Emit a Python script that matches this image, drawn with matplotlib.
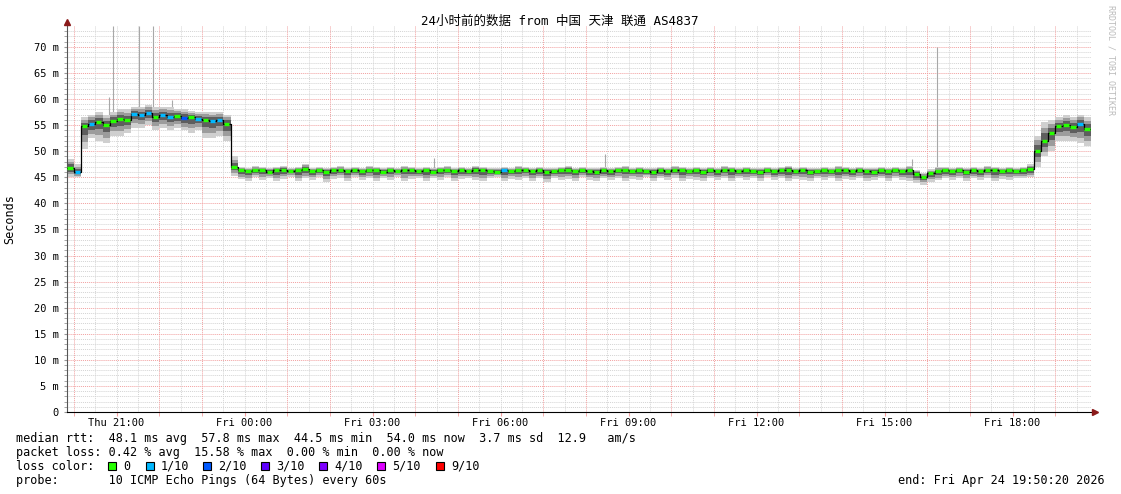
import numpy as np
import matplotlib
matplotlib.use('Agg')
import matplotlib.pyplot as plt
from matplotlib.patches import Rectangle

# ---- data (10 minute steps, start Thu 19:50:20, 24 hours) ----
median = [46.8, 46.0,
          54.8, 55.2, 55.6, 55.0, 55.8, 56.2, 56.0, 57.2, 57.0, 57.4,
          56.6, 57.0, 56.6, 56.8, 56.4, 56.5, 56.2, 56.0, 55.8, 56.0, 55.2,
          47.0,
          46.3, 46.2, 46.4, 46.3, 46.1, 46.3, 46.4, 46.2, 46.3, 46.5,
          46.2, 46.3, 46.1, 46.3, 46.4, 46.2, 46.3, 46.2, 46.4, 46.3,
          46.1, 46.3, 46.2, 46.4, 46.3, 46.2, 46.3, 46.1, 46.3, 46.4,
          46.2, 46.3, 46.2, 46.4, 46.3, 46.2, 46.1, 46.3, 46.2, 46.4,
          46.3, 46.2, 46.3, 46.1, 46.2, 46.3, 46.4, 46.2, 46.3, 46.2,
          46.1, 46.3, 46.2, 46.3, 46.4, 46.2, 46.3, 46.2, 46.1, 46.3,
          46.2, 46.4, 46.3, 46.2, 46.3, 46.1, 46.3, 46.2, 46.4, 46.3,
          46.2, 46.3, 46.2, 46.1, 46.3, 46.2, 46.3, 46.4, 46.2, 46.3,
          46.1, 46.2, 46.3, 46.2, 46.4, 46.3, 46.2, 46.3, 46.2, 46.1,
          46.3, 46.2, 46.3, 46.2, 46.4, 45.6, 45.0, 45.8, 46.2, 46.3,
          46.2, 46.3, 46.1, 46.3, 46.2, 46.4, 46.3, 46.2, 46.3, 46.2,
          46.3, 46.5,
          50.0, 52.0, 53.5, 54.8, 55.0, 54.6, 55.2, 54.2]

smoke_lo = [45.0, 45.0,
            50.5, 52.5, 52.0, 51.5, 53.0, 53.0, 53.5, 54.5, 54.5, 55.0,
            54.0, 54.5, 54.0, 54.5, 54.0, 53.5, 54.0, 52.5, 52.5, 53.0, 52.0,
            45.3,
            44.6, 44.3, 45.0, 44.4, 44.9, 44.2, 44.7, 45.1, 44.3, 44.8,
            44.5, 45.0, 44.1, 44.7, 44.9, 44.3, 45.0, 44.5, 44.8, 44.2,
            44.9, 44.4, 45.1, 44.3, 44.7, 44.9, 44.2, 44.8, 44.5, 45.0,
            44.3, 44.7, 44.9, 44.4, 44.2, 44.8, 45.1, 44.3, 44.7, 44.5,
            44.9, 44.3, 44.8, 44.1, 44.9, 44.5, 44.7, 44.3, 45.0, 44.5,
            44.2, 44.8, 44.5, 44.9, 44.3, 44.7, 44.5, 45.0, 44.2, 44.8,
            44.5, 44.9, 44.3, 44.7, 44.5, 44.2, 44.9, 44.5, 44.8, 44.3,
            44.9, 44.4, 44.8, 44.3, 45.0, 44.5, 44.8, 44.2, 44.7, 44.5,
            44.3, 44.9, 44.5, 44.8, 44.2, 44.7, 44.5, 44.9, 44.3, 44.5,
            44.8, 44.3, 44.9, 44.5, 44.2, 43.9, 43.6, 44.1, 44.4, 44.8,
            44.5, 44.9, 44.3, 44.8, 44.5, 44.9, 44.3, 44.7, 44.5, 44.9,
            44.8, 45.0,
            47.0, 49.0, 50.0, 52.0, 52.0, 52.0, 51.5, 51.0]

smoke_hi = [48.5, 47.5,
            56.5, 57.0, 57.5, 57.0, 57.5, 58.0, 58.0, 58.5, 58.5, 58.8,
            58.5, 58.5, 58.5, 58.0, 58.0, 57.8, 57.5, 57.5, 57.5, 57.5, 57.0,
            49.0,
            46.9, 46.8, 47.1, 46.9, 46.7, 47.0, 47.2, 46.8, 46.9, 47.6,
            46.8, 47.0, 46.7, 46.9, 47.1, 46.8, 47.0, 46.8, 47.1, 46.9,
            46.7, 47.0, 46.8, 47.1, 46.9, 46.8, 47.0, 46.7, 46.9, 47.1,
            46.8, 46.9, 46.8, 47.2, 46.9, 46.8, 46.7, 47.0, 46.8, 47.1,
            46.9, 46.8, 47.0, 46.7, 46.8, 47.0, 47.2, 46.8, 46.9, 46.8,
            46.7, 46.9, 46.8, 47.0, 47.1, 46.8, 46.9, 46.8, 46.7, 47.0,
            46.8, 47.1, 46.9, 46.8, 47.0, 46.7, 46.9, 46.8, 47.1, 46.9,
            46.8, 47.0, 46.8, 46.7, 46.9, 46.8, 47.0, 47.2, 46.8, 46.9,
            46.7, 46.8, 47.0, 46.8, 47.1, 46.9, 46.8, 47.0, 46.8, 46.7,
            46.9, 46.8, 47.0, 46.8, 47.1, 46.4, 45.8, 46.5, 46.9, 47.0,
            46.8, 46.9, 46.7, 47.0, 46.8, 47.1, 46.9, 46.8, 47.0, 46.8,
            46.9, 47.5,
            53.0, 55.5, 56.0, 56.5, 57.0, 56.5, 57.0, 56.5]

# step index -> lost pings out of 10
loss_steps = {1: 1, 3: 1, 9: 1, 10: 1, 11: 1, 13: 1, 14: 1, 16: 2, 18: 1,
              20: 1, 21: 1, 61: 1, 142: 1}

# single-ping outliers: hours after start, top value
spike_hours = [0.98, 1.07, 1.69, 2.02, 2.46, 8.60, 12.61, 19.80, 20.39]
spike_tops = [60.4, 74.0, 74.0, 74.0, 59.8, 48.7, 49.5, 48.5, 70.0]

start_hour = 19 + 50 / 60 + 20 / 3600
label_hours = [21, 24, 27, 30, 33, 36, 39, 42]
label_text = ['Thu 21:00', 'Fri 00:00', 'Fri 03:00', 'Fri 06:00',
              'Fri 09:00', 'Fri 12:00', 'Fri 15:00', 'Fri 18:00']

loss_colors = ['#26ff00', '#00b8ff', '#0059ff', '#5e00ff', '#7e00ff', '#dd00ff', '#ff0000']
loss_names = ['0', '1/10', '2/10', '3/10', '4/10', '5/10', '9/10']
loss_index = {0: 0, 1: 1, 2: 2, 3: 3, 4: 4, 5: 5, 9: 6}

W, H = 1121, 494
MONO = 'DejaVu Sans Mono'
RED = '#f2a0a0'
GREY = '#d4d4d4'

fig = plt.figure(figsize=(W / 100, H / 100), dpi=100)
ax = fig.add_axes([67 / W, 82 / H, 1024 / W, 386 / H])
ax.set_xlim(0, 24)
ax.set_ylim(0, 74)

# grid
for v in range(1, 74):
    ax.axhline(v, color=RED if v % 5 == 0 else GREY, lw=0.7, ls=(0, (1, 1)), zorder=1)
for hh in np.arange(20, 44, 0.5):
    red = hh == int(hh) and int(hh) % 3 != 0
    ax.axvline(hh - start_hour, color=RED if red else GREY, lw=0.7, ls=(0, (1, 1)), zorder=1)

med = np.array(median)
lo = np.array(smoke_lo)
hi = np.array(smoke_hi)
t = np.arange(len(med)) / 6
edges = np.append(t, 24)


def ext(a):
    return np.append(a, a[-1])


ax.vlines(spike_hours, np.interp(spike_hours, t, med), spike_tops,
          color='#a8a8a8', lw=0.8, zorder=2)

for frac, col in [(1.0, '#cfcfcf'), (0.7, '#9c9c9c'), (0.4, '#5e5e5e')]:
    ax.fill_between(edges, ext(med - frac * (med - lo)), ext(med + frac * (hi - med)),
                    step='post', color=col, lw=0, zorder=2)

ax.step(edges, ext(med), where='post', color='black', lw=0.9, zorder=3)
loss = [loss_steps.get(i, 0) for i in range(len(med))]
seg_cols = [loss_colors[loss_index[l]] for l in loss]
ax.hlines(med, t + 0.01, t + 0.14, colors=seg_cols, lw=2.4, zorder=4)

# axes
for s in ['top', 'right']:
    ax.spines[s].set_visible(False)
ax.spines['left'].set_color('#555555')
ax.spines['bottom'].set_color('black')
ax.plot([0], [74.8], marker='^', ms=4.5, color='#8b1a1a', clip_on=False, zorder=5)
ax.plot([24.1], [0], marker='>', ms=4.5, color='#8b1a1a', clip_on=False, zorder=5)

ax.set_xticks([h - start_hour for h in label_hours], label_text)
ax.set_xticks(np.arange(20, 44, 1) - start_hour, minor=True)
ax.tick_params(axis='x', which='both', length=3, color=RED, pad=1.5,
               labelsize=7.5, labelfontfamily=MONO)
ax.set_yticks(range(0, 75, 5), ['0' if v == 0 else f'{v} m' for v in range(0, 75, 5)])
ax.set_yticks(range(0, 74), minor=True)
ax.tick_params(axis='y', which='both', length=2, color='#999999', pad=4,
               labelsize=7.5, labelfontfamily=MONO)

fig.text(10 / W, 1 - 219 / H, 'Seconds', rotation=90, ha='center', va='center',
         fontsize=8.5, family=MONO)
fig.text(560 / W, 1 - 21 / H, '24小时前的数据 from 中国 天津 联通 AS4837',
         ha='center', va='center', fontsize=9, family=[MONO, 'Noto Sans CJK SC'])
fig.text(1111 / W, 1 - 5 / H, 'RRDTOOL / TOBI OETIKER', rotation=270, ha='center',
         va='top', fontsize=6, family=MONO, color='#bbbbbb')

legend_lines = [
    'median rtt:  48.1 ms avg  57.8 ms max  44.5 ms min  54.0 ms now  3.7 ms sd  12.9   am/s',
    'packet loss: 0.42 % avg  15.58 % max  0.00 % min  0.00 % now',
    'loss color:',
    'probe:       10 ICMP Echo Pings (64 Bytes) every 60s',
]
for k, line in enumerate(legend_lines):
    fig.text(16 / W, 1 - (438 + 14 * k) / H, line, ha='left', va='center',
             fontsize=8.5, family=MONO)

sq_x = [108, 146, 203, 261, 319, 377, 436]
for x0, col, name in zip(sq_x, loss_colors, loss_names):
    fig.patches.append(Rectangle((x0 / W, 1 - 470 / H), 8 / W, 8 / H, transform=fig.transFigure,
                                 facecolor=col, edgecolor='black', lw=0.8))
    fig.text((x0 + 15) / W, 1 - 466 / H, name, ha='left', va='center', fontsize=8.5, family=MONO)

fig.text(1105 / W, 1 - 480 / H, 'end: Fri Apr 24 19:50:20 2026', ha='right', va='center',
         fontsize=8.5, family=MONO)

fig.savefig('out.png', dpi=100, facecolor='white')
